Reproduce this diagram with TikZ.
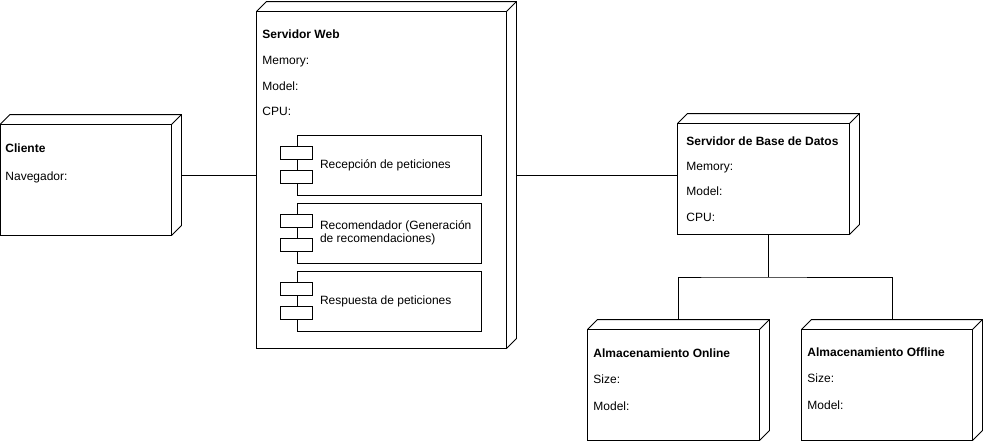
\documentclass[tikz,border=0pt]{standalone}
\usepackage{fontspec}
\setmainfont{Liberation Sans}
\usetikzlibrary{calc}
\begin{document}
\begin{tikzpicture}[x=1pt,y=-1pt,line width=0.9pt,
  whole/.style={rectangle,inner sep=0pt,minimum width=#1},
  comp/.style={draw,rectangle,inner sep=0pt,minimum width=184pt,minimum height=60pt},
  port/.style={draw,fill=white,rectangle,inner sep=0pt,minimum width=32pt,minimum height=12.5pt},
  lbl/.style={anchor=base west,inner sep=0pt,font=\fontsize{12}{14}\selectfont},
  ttl/.style={lbl,font=\fontsize{12}{14}\selectfont\bfseries},
  ctext/.style={anchor=west,inner sep=0pt,align=left,font=\fontsize{12}{13.5}\selectfont}]
\useasboundingbox (0,0) rectangle (983,442);
% whole bounding nodes (front box + 10pt depth)
\node[whole=180.5pt,minimum height=120pt] (cli) at (90.75,175) {};
\node[whole=259pt,minimum height=346pt] (web) at (386.5,175) {};
\node[whole=181pt,minimum height=120pt] (db) at (768.5,174) {};
\node[whole=181pt,minimum height=120pt] (on) at (678.5,380) {};
\node[whole=180pt,minimum height=120pt] (off) at (892,380) {};
\foreach \n in {cli,web,db,on,off}{
  \draw (\n.south west) rectangle ($(\n.north east)+(-10,10)$);
  \draw ($(\n.north west)+(0,10)$) -- ($(\n.north west)+(10,0)$) -- (\n.north east)
        -- ($(\n.south east)+(0,-10)$) -- ($(\n.south east)+(-10,0)$);
  \draw ($(\n.north east)+(-10,10)$) -- (\n.north east);
}
% texts (baseline positions)
\node[ttl] (t1) at (5,152) {Cliente};
\node[lbl] (t2) at (5,180) {Navegador:};
\node[ttl] (t3) at (262,38) {Servidor Web};
\node[lbl] (t4) at (262,64) {Memory:};
\node[lbl] (t5) at (262,90) {Model:};
\node[lbl] (t6) at (262,115) {CPU:};
\node[ttl] (t7) at (686,145) {Servidor de Base de Datos};
\node[lbl] (t8) at (686,170) {Memory:};
\node[lbl] (t9) at (686,195) {Model:};
\node[lbl] (t10) at (686,221) {CPU:};
\node[ttl] (t11) at (593,357) {Almacenamiento Online};
\node[lbl] (t12) at (593,383) {Size:};
\node[lbl] (t13) at (593,410) {Model:};
\node[ttl] (t14) at (807,356) {Almacenamiento Offline};
\node[lbl] (t15) at (807,382) {Size:};
\node[lbl] (t16) at (807,409) {Model:};
% components
\node[comp] (c1) at (389,165) {};
\node[comp] (c2) at (389,233) {};
\node[comp] (c3) at (389,301) {};
\foreach \c in {c1,c2,c3}{
  \node[port] (\c a) at ($(\c.west)+(0,-12)$) {};
  \node[port] (\c b) at ($(\c.west)+(0,12)$) {};
}
\node[ctext] (ct1) at ($(c1.west)+(23,0)$) {Recepción de peticiones};
\node[ctext] (ct2) at ($(c2.west)+(23,0)$) {Recomendador (Generación\\de recomendaciones)};
\node[ctext] (ct3) at ($(c3.west)+(23,0)$) {Respuesta de peticiones};
% connectors
\draw (cli.east) -- (cli.east -| web.west);
\draw (web.east) -- (web.east -| db.west);
\coordinate (bus) at ($(db.south)!0.5!(on.north)$);
\draw (db.south) -- (db.south |- bus);
\draw (on.north) |- (bus) -| (off.north);
\end{tikzpicture}
\end{document}
